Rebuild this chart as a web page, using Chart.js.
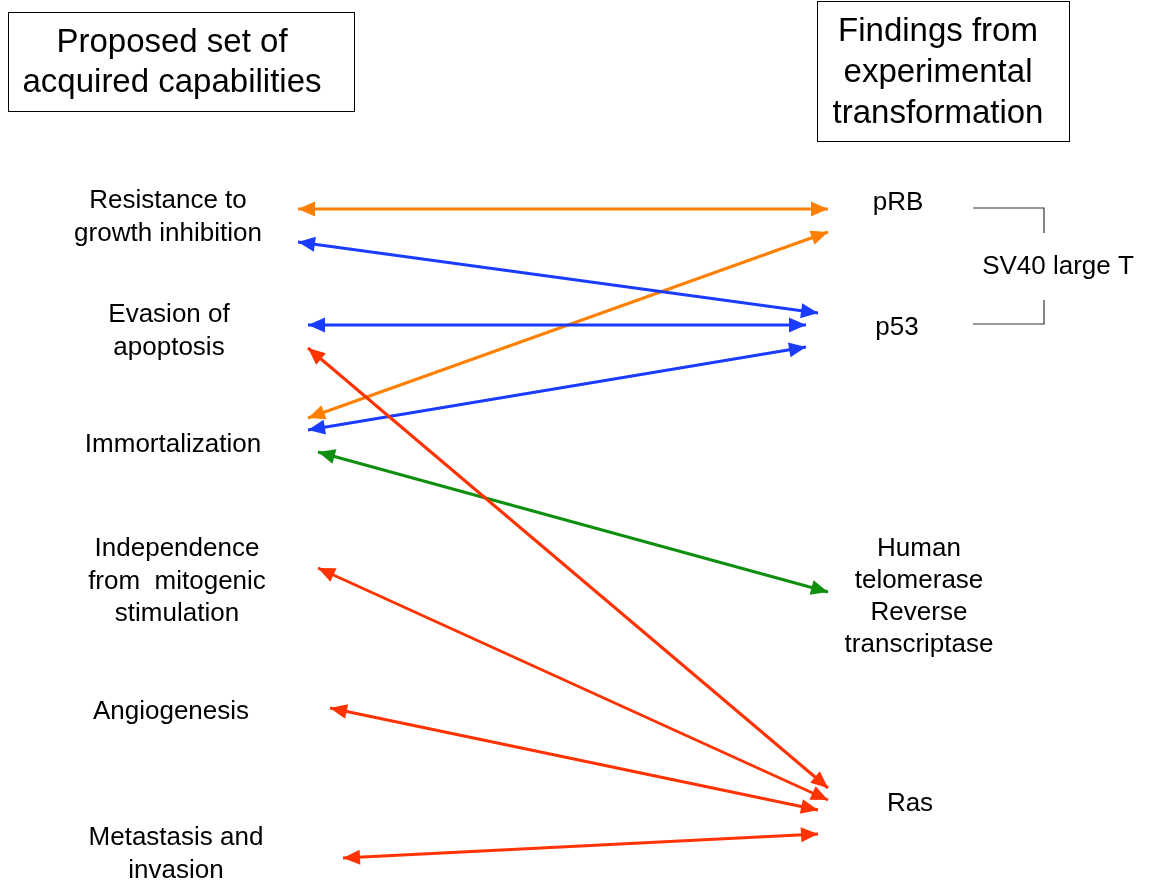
<!DOCTYPE html>
<html>
<head>
<meta charset="utf-8">
<script src="https://cdn.jsdelivr.net/npm/chart.js@4"></script>
<style>
  html, body { margin: 0; padding: 0; background: #ffffff; }
  #wrap { width: 1149px; height: 884px; }
</style>
</head>
<body>
<div id="wrap"><canvas id="diagram" width="1149" height="884"></canvas></div>
<script>
(function () {
  // left column: capabilities (label lines, centre x, first-line y)
  var capabilityLabels = [
    ["Resistance to", "growth inhibition"],
    ["Evasion of", "apoptosis"],
    ["Immortalization"],
    ["Independence", "from  mitogenic", "stimulation"],
    ["Angiogenesis"],
    ["Metastasis and", "invasion"]
  ];
  var capabilityX = [168, 169, 173, 177, 171, 176];
  var capabilityY = [201, 315, 445, 549, 712, 838];

  // right column: experimental findings
  var findingLabels = [
    ["pRB"],
    ["p53"],
    ["Human", "telomerase", "Reverse", "transcriptase"],
    ["Ras"],
    ["SV40 large T"]
  ];
  var findingX = [898, 897, 919, 910, 1058];
  var findingY = [203, 328, 549, 804, 267];

  // double-headed links: start (left end) -> end (right end)
  var linkX1 = [298, 298, 308, 308, 308, 308, 318, 318, 330, 343];
  var linkY1 = [209, 242, 325, 348, 418, 430, 452, 568, 708, 858];
  var linkX2 = [828, 818, 806, 828, 828, 806, 828, 828, 818, 818];
  var linkY2 = [209, 313, 325, 788, 232, 347, 592, 800, 810, 834];
  var linkColor = ["#ff8000", "#1a3cff", "#1a3cff", "#ff3300", "#ff8000",
                   "#1a3cff", "#0f8f0f", "#ff3300", "#ff3300", "#ff3300"];

  // SV40 bracket
  var bracketX = [973, 1044, 1044, null, 1044, 1044, 973];
  var bracketY = [208, 208, 233, null, 300, 324, 324];

  var datasets = [];
  for (var i = 0; i < linkX1.length; i++) {
    datasets.push({
      type: "line",
      data: [{ x: linkX1[i], y: linkY1[i] }, { x: linkX2[i], y: linkY2[i] }],
      borderColor: linkColor[i],
      borderWidth: 3,
      pointRadius: 0,
      arrows: true
    });
  }
  var bracketData = [];
  for (var b = 0; b < bracketX.length; b++) {
    bracketData.push(bracketX[b] === null ? { x: null, y: null } : { x: bracketX[b], y: bracketY[b] });
  }
  datasets.push({
    type: "line",
    data: bracketData,
    borderColor: "#333333",
    borderWidth: 1.2,
    pointRadius: 0,
    spanGaps: false
  });

  function drawHead(ctx, tipX, tipY, fromX, fromY, color) {
    var ang = Math.atan2(tipY - fromY, tipX - fromX);
    var len = 17, half = 7.5;
    ctx.save();
    ctx.translate(tipX, tipY);
    ctx.rotate(ang);
    ctx.beginPath();
    ctx.moveTo(0, 0);
    ctx.lineTo(-len, -half);
    ctx.lineTo(-len, half);
    ctx.closePath();
    ctx.fillStyle = color;
    ctx.fill();
    ctx.restore();
  }

  var arrowPlugin = {
    id: "arrowHeads",
    afterDatasetsDraw: function (chart) {
      var ctx = chart.ctx;
      chart.data.datasets.forEach(function (ds, idx) {
        if (!ds.arrows) { return; }
        var pts = chart.getDatasetMeta(idx).data;
        var a = pts[0], z = pts[1];
        drawHead(ctx, a.x, a.y, z.x, z.y, ds.borderColor);
        drawHead(ctx, z.x, z.y, a.x, a.y, ds.borderColor);
      });
    }
  };

  function drawLines(ctx, xs, ys, lines, x, y, step) {
    for (var k = 0; k < lines.length; k++) {
      ctx.fillText(lines[k], xs.getPixelForValue(x), ys.getPixelForValue(y + k * step));
    }
  }

  var textPlugin = {
    id: "diagramText",
    afterDraw: function (chart) {
      var ctx = chart.ctx;
      var xs = chart.scales.x, ys = chart.scales.y;
      ctx.save();
      ctx.fillStyle = "#000000";
      ctx.textAlign = "center";
      ctx.textBaseline = "middle";

      // header boxes
      ctx.strokeStyle = "#000000";
      ctx.lineWidth = 1;
      var bx1 = xs.getPixelForValue(8), by1 = ys.getPixelForValue(12);
      var bx2 = xs.getPixelForValue(354), by2 = ys.getPixelForValue(111);
      ctx.strokeRect(bx1 + 0.5, by1 + 0.5, bx2 - bx1, by2 - by1);
      var cx1 = xs.getPixelForValue(817), cy1 = ys.getPixelForValue(1);
      var cx2 = xs.getPixelForValue(1069), cy2 = ys.getPixelForValue(141);
      ctx.strokeRect(cx1 + 0.5, cy1 + 0.5, cx2 - cx1, cy2 - cy1);

      ctx.font = "33px 'Liberation Sans', Arial, sans-serif";
      drawLines(ctx, xs, ys, ["Proposed set of", "acquired capabilities"], 172, 43, 40);
      drawLines(ctx, xs, ys, ["Findings from", "experimental", "transformation"], 938, 32, 41);

      ctx.font = "26px 'Liberation Sans', Arial, sans-serif";
      for (var i = 0; i < capabilityLabels.length; i++) {
        drawLines(ctx, xs, ys, capabilityLabels[i], capabilityX[i], capabilityY[i], 32.5);
      }
      for (var j = 0; j < findingLabels.length; j++) {
        drawLines(ctx, xs, ys, findingLabels[j], findingX[j], findingY[j], 32);
      }
      ctx.restore();
    }
  };

  var bgPlugin = {
    id: "whiteBg",
    beforeDraw: function (chart) {
      var ctx = chart.ctx;
      ctx.save();
      ctx.fillStyle = "#ffffff";
      ctx.fillRect(0, 0, chart.width, chart.height);
      ctx.restore();
    }
  };

  new Chart(document.getElementById("diagram"), {
    type: "scatter",
    data: { datasets: datasets },
    options: {
      responsive: false,
      animation: false,
      layout: { padding: 0 },
      scales: {
        x: { type: "linear", min: 0, max: 1149, display: false },
        y: { type: "linear", min: 0, max: 884, reverse: true, display: false }
      },
      plugins: {
        legend: { display: false },
        tooltip: { enabled: false }
      }
    },
    plugins: [bgPlugin, arrowPlugin, textPlugin]
  });
})();
</script>
</body>
</html>
